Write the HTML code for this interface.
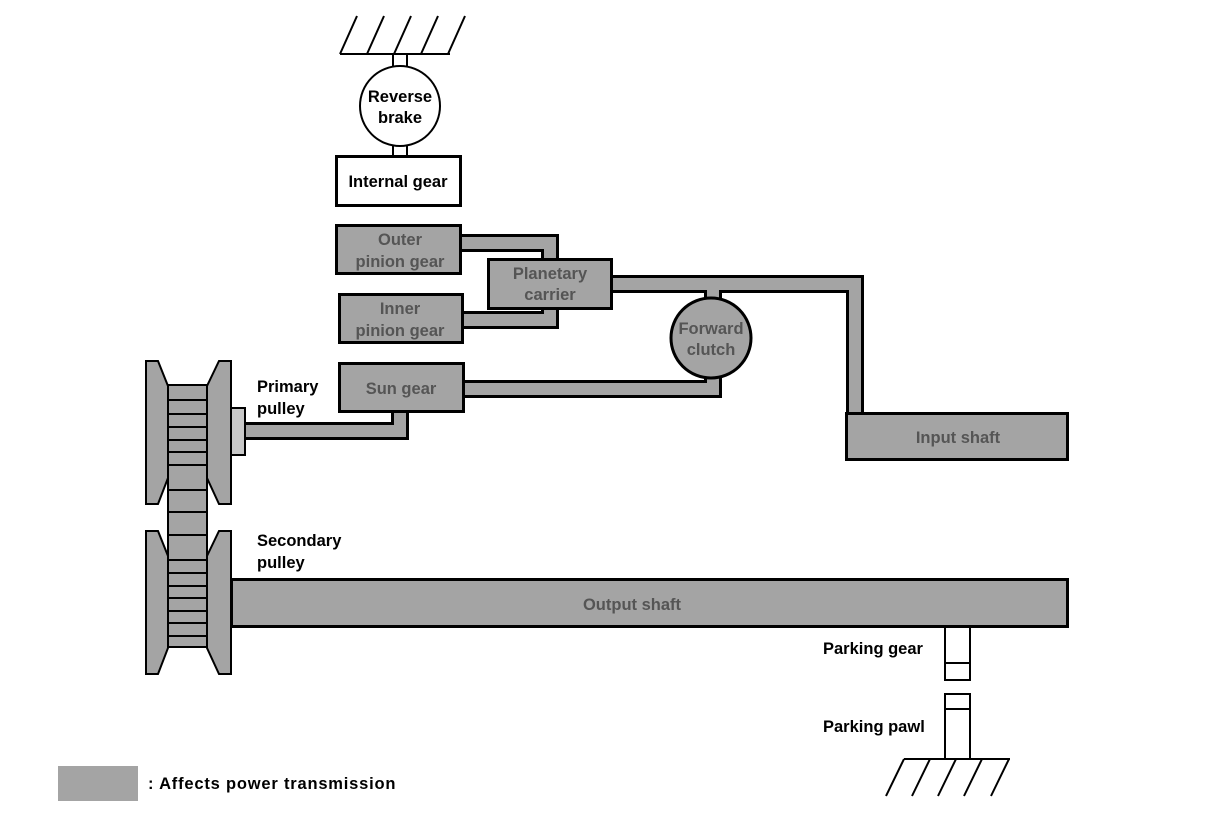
<!DOCTYPE html>
<html><head><meta charset="utf-8"><style>
html,body{margin:0;padding:0;background:#fff}
svg{display:block}
text{font-family:"Liberation Sans",sans-serif;font-size:16.5px;font-weight:bold;fill:#000}
.g{fill:#a4a4a4}
</style></head><body>
<svg width="1216" height="824" viewBox="0 0 1216 824" xmlns="http://www.w3.org/2000/svg">
<!-- top ground -->
<g stroke="#000" stroke-width="2" fill="none">
<line x1="340" y1="54" x2="450" y2="54"/>
<line x1="340" y1="54" x2="357" y2="16"/>
<line x1="367" y1="54" x2="384" y2="16"/>
<line x1="394" y1="54" x2="411" y2="16"/>
<line x1="421" y1="54" x2="438" y2="16"/>
<line x1="448" y1="54" x2="465" y2="16"/>
<rect x="393" y="54" width="14" height="14" fill="#fff"/>
<rect x="393" y="144" width="14" height="12" fill="#fff"/>
<circle cx="400" cy="106" r="40" fill="#fff"/>
</g>
<text x="400" y="102" text-anchor="middle">Reverse</text>
<text x="400" y="123" text-anchor="middle">brake</text>
<rect x="336.5" y="156.5" width="124" height="49" fill="#fff" stroke="#000" stroke-width="3"/>
<text x="398" y="187" text-anchor="middle">Internal gear</text>

<!-- connector pipes -->
<g fill="none" stroke-linejoin="miter">
<g stroke="#000" stroke-width="18">
<polyline points="455,243 550,243 550,265"/>
<polyline points="458,320 550,320 550,300"/>
<polyline points="605,284 855,284 855,420"/>
<line x1="713" y1="284" x2="713" y2="302"/>
<polyline points="458,389 713,389 713,372"/>
<polyline points="400,405 400,431 238,431"/>
</g>
<g stroke="#a4a4a4" stroke-width="12">
<polyline points="455,243 550,243 550,265"/>
<polyline points="458,320 550,320 550,300"/>
<polyline points="605,284 855,284 855,420"/>
<line x1="713" y1="284" x2="713" y2="302"/>
<polyline points="458,389 713,389 713,372"/>
<polyline points="400,405 400,431 238,431"/>
</g>
</g>

<g stroke="#000" stroke-width="3" class="g">
<rect x="336.5" y="225.5" width="124" height="48"/>
<rect x="339.5" y="294.5" width="123" height="48"/>
<rect x="488.5" y="259.5" width="123" height="49"/>
<rect x="339.5" y="363.5" width="124" height="48"/>
<rect x="846.5" y="413.5" width="221" height="46"/>
<circle cx="711" cy="338" r="40"/>
<rect x="231.5" y="579.5" width="836" height="47"/>
</g>
<g style="fill:#555">
<text x="400" y="245" text-anchor="middle" style="fill:#555">Outer</text>
<text x="400" y="267" text-anchor="middle" style="fill:#555">pinion gear</text>
<text x="400" y="314" text-anchor="middle" style="fill:#555">Inner</text>
<text x="400" y="336" text-anchor="middle" style="fill:#555">pinion gear</text>
<text x="550" y="279" text-anchor="middle" style="fill:#555">Planetary</text>
<text x="550" y="300" text-anchor="middle" style="fill:#555">carrier</text>
<text x="401" y="394" text-anchor="middle" style="fill:#555">Sun gear</text>
<text x="711" y="334" text-anchor="middle" style="fill:#555">Forward</text>
<text x="711" y="355" text-anchor="middle" style="fill:#555">clutch</text>
<text x="958" y="443" text-anchor="middle" style="fill:#555">Input shaft</text>
<text x="632" y="610" text-anchor="middle" style="fill:#555">Output shaft</text>
</g>

<!-- pulleys -->
<g stroke="#000" stroke-width="2" class="g">
<rect x="168" y="385" width="39" height="262"/>
<polygon points="146,361 158,361 168,386 168,478 158,504 146,504"/>
<polygon points="231,361 219,361 207,386 207,478 219,504 231,504"/>
<rect x="231" y="408" width="14" height="47" fill="#c8c8c8"/>
<polygon points="146,531 158,531 168,556 168,648 158,674 146,674"/>
<polygon points="231,531 219,531 207,556 207,648 219,674 231,674"/>
</g>
<g stroke="#000" stroke-width="2">
<line x1="168" y1="400" x2="207" y2="400"/>
<line x1="168" y1="414" x2="207" y2="414"/>
<line x1="168" y1="427" x2="207" y2="427"/>
<line x1="168" y1="440" x2="207" y2="440"/>
<line x1="168" y1="452" x2="207" y2="452"/>
<line x1="168" y1="465" x2="207" y2="465"/>
<line x1="168" y1="490" x2="207" y2="490"/>
<line x1="168" y1="512" x2="207" y2="512"/>
<line x1="168" y1="535" x2="207" y2="535"/>
<line x1="168" y1="560" x2="207" y2="560"/>
<line x1="168" y1="573" x2="207" y2="573"/>
<line x1="168" y1="586" x2="207" y2="586"/>
<line x1="168" y1="598" x2="207" y2="598"/>
<line x1="168" y1="611" x2="207" y2="611"/>
<line x1="168" y1="623" x2="207" y2="623"/>
<line x1="168" y1="636" x2="207" y2="636"/>
</g>
<text x="257" y="392">Primary</text>
<text x="257" y="414">pulley</text>
<text x="257" y="546">Secondary</text>
<text x="257" y="568">pulley</text>

<!-- parking -->
<g stroke="#000" stroke-width="2" fill="#fff">
<rect x="945" y="627" width="25" height="53"/>
<line x1="945" y1="663" x2="970" y2="663"/>
<rect x="945" y="694" width="25" height="65"/>
<line x1="945" y1="709" x2="970" y2="709"/>
<line x1="904" y1="759" x2="1010" y2="759"/>
<line x1="904" y1="759" x2="886" y2="796"/>
<line x1="930" y1="759" x2="912" y2="796"/>
<line x1="956" y1="759" x2="938" y2="796"/>
<line x1="982" y1="759" x2="964" y2="796"/>
<line x1="1009" y1="759" x2="991" y2="796"/>
</g>
<text x="823" y="654">Parking gear</text>
<text x="823" y="732">Parking pawl</text>

<!-- legend -->
<rect x="58" y="766" width="80" height="35" class="g"/>
<text x="148" y="789" style="letter-spacing:0.8px">: Affects power transmission</text>
</svg>
</body></html>
